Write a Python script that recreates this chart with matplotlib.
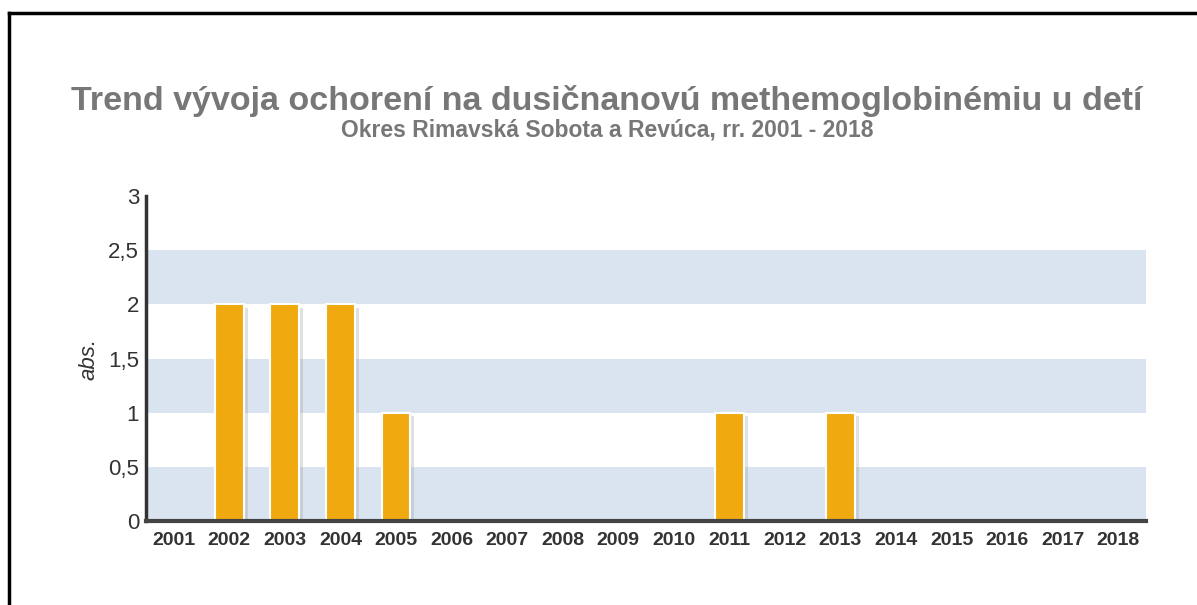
import matplotlib.pyplot as plt
import numpy as np

years = [str(y) for y in range(2001, 2019)]
cases = [0, 2, 2, 2, 1, 0, 0, 0, 0, 0, 1, 0, 1, 0, 0, 0, 0, 0]
yticks = [0, 0.5, 1, 1.5, 2, 2.5, 3]
ytick_labels = ["0", "0,5", "1", "1,5", "2", "2,5", "3"]

plt.rcParams['font.family'] = ['Liberation Sans', 'DejaVu Sans']

fig = plt.figure(figsize=(11.97, 6.05), dpi=100)
ax = fig.add_axes([146 / 1197, 84 / 605, 1000 / 1197, 325 / 605])

x = np.arange(len(years))

# striped background
for lo in [0, 1, 2]:
    ax.axhspan(lo, lo + 0.5, color='#dae4f0', zorder=0, lw=0)

# shadow then bars
ax.bar(x + 0.07, cases, width=0.52, bottom=-0.03, color='#9a9a9a', alpha=0.3, zorder=1, lw=0)
ax.bar(x, cases, width=0.52, color='#f0aa10', edgecolor='white', linewidth=1.5, zorder=2)

ax.set_xlim(-0.5, len(years) - 0.5)
ax.set_ylim(0, 3)
ax.set_xticks(x)
ax.set_xticklabels(years, fontsize=14, fontweight='bold', color='#333333')
ax.set_yticks(yticks)
ax.set_yticklabels(ytick_labels, fontsize=16, color='#333333')
ax.tick_params(axis='x', length=0, pad=8)
ax.tick_params(axis='y', length=0, pad=5)

for s in ['top', 'right']:
    ax.spines[s].set_visible(False)
ax.spines['left'].set_color('#333333')
ax.spines['left'].set_linewidth(2.5)
ax.spines['bottom'].set_color('#444444')
ax.spines['bottom'].set_linewidth(3)

ax.set_ylabel('abs.', fontsize=16, style='italic', color='#333333', labelpad=6)

fig.text(0.507, 0.833, 'Trend vývoja ochorení na dusičnanovú methemoglobinémiu u detí',
         ha='center', va='center', fontsize=24.5, fontweight='bold', color='#777777')
fig.text(0.507, 0.785, 'Okres Rimavská Sobota a Revúca, rr. 2001 - 2018',
         ha='center', va='center', fontsize=16.5, fontweight='bold', color='#777777')

# frame lines top and left
fig.add_artist(plt.Line2D([9 / 1197, 1], [1 - 13 / 605, 1 - 13 / 605], color='black', lw=2.5))
fig.add_artist(plt.Line2D([9 / 1197, 9 / 1197], [0, 1 - 13 / 605], color='black', lw=2.5))

fig.savefig('out.png', dpi=100)
